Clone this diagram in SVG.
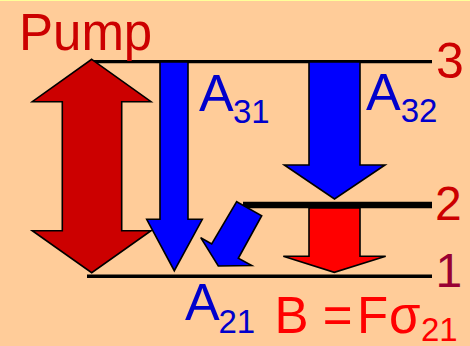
<svg xmlns="http://www.w3.org/2000/svg" width="470" height="346" viewBox="0 0 470 346">
<style>
text{font-family:"Liberation Sans",Arial,sans-serif}
.arr{stroke:#000;stroke-width:1.6;stroke-linejoin:miter}
.lvl{stroke:#000;fill:none}
.blue{fill:#0000FF}
.bt{fill:#0000CC;font-size:52px}
.bs{fill:#0000CC;font-size:33px}
.rt{fill:#CC0000}
</style>
<rect x="0" y="0" width="470" height="346" fill="#FFCC99"/>
<rect x="0" y="0" width="470" height="1" fill="#FFFF99"/>
<g id="connectors">
<line class="lvl" x1="92" y1="61.7" x2="432" y2="61.7" stroke-width="3.2"/>
<line class="lvl" x1="243" y1="205" x2="432" y2="205" stroke-width="6.5"/>
<line class="lvl" x1="87" y1="276.3" x2="432" y2="276.3" stroke-width="3.4"/>
</g>
<g id="pump">
<polygon class="arr" fill="#CC0000" points="91.7,59.3 151,101.7 121.7,101.7 121.7,230.7 151,230.7 91.7,272.7 32.3,230.7 62.3,230.7 62.3,101.7 32.3,101.7"/>
<text x="19" y="49.5" font-size="51" class="rt">Pump</text>
</g>
<g id="a31">
<polygon class="arr blue" points="160,62 188,62 188,219.3 202.3,219.3 174.3,270.7 146.7,219.3 160,219.3"/>
<text x="199" y="111" class="bt">A</text><text x="233" y="122.5" class="bs">31</text>
</g>
<g id="a32">
<polygon class="arr blue" points="309,62 360,62 360,165 385,165 334.5,199 284.3,165 309,165"/>
<text x="366" y="110" class="bt">A</text><text x="400.7" y="122" class="bs">32</text>
</g>
<g id="a21">
<polygon class="arr blue" points="236.7,201.7 261.7,215.7 238.3,258.3 251.7,265.5 218.3,266 200.7,237.7 211.7,244"/>
<text x="185" y="320" class="bt">A</text><text x="218.5" y="332.5" class="bs" font-size="34">21</text>
</g>
<g id="b">
<polygon class="arr" fill="#FF0000" points="309,208 360,208 360,256.3 385.7,256.3 334.3,272.3 283.3,256.3 309,256.3"/>
<text y="332.7" font-size="51" fill="#FF0000"><tspan x="274.6">B =</tspan><tspan x="357">F</tspan><tspan x="389">σ</tspan></text>
<text x="421" y="341" font-size="33" fill="#FF0000">21</text>
</g>
<g id="labels">
<text x="436" y="78" font-size="50" class="rt">3</text>
<text x="435" y="219.5" font-size="48" class="rt">2</text>
<text x="435.5" y="286.5" font-size="48" fill="#990033">1</text>
</g>
</svg>
